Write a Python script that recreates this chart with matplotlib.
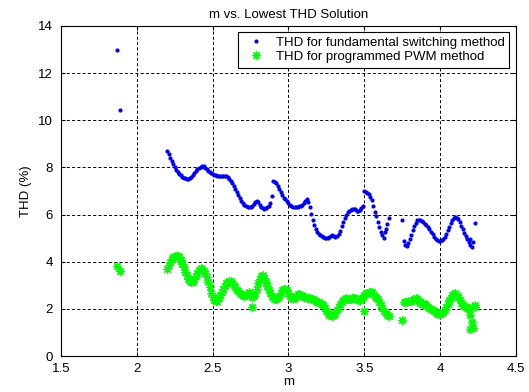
import numpy as np
import matplotlib
matplotlib.use('Agg')
import matplotlib.pyplot as plt

plt.rcParams['font.family'] = ['Liberation Sans', 'DejaVu Sans']
plt.rcParams['lines.scale_dashes'] = False

# shared m grid
m = [1.87, 1.89,
     2.20, 2.21, 2.22, 2.23, 2.24, 2.25, 2.26, 2.27, 2.28, 2.29,
     2.30, 2.31, 2.32, 2.33, 2.34, 2.35, 2.36, 2.37, 2.38, 2.39,
     2.40, 2.41, 2.42, 2.43, 2.44, 2.45, 2.46, 2.47, 2.48, 2.49,
     2.50, 2.51, 2.52, 2.53, 2.54, 2.55, 2.56, 2.57, 2.58, 2.59,
     2.60, 2.61, 2.62, 2.63, 2.64, 2.65, 2.66, 2.67, 2.68, 2.69,
     2.70, 2.71, 2.72, 2.73, 2.74, 2.75, 2.76, 2.77, 2.78, 2.79,
     2.80, 2.81, 2.82, 2.83, 2.84, 2.85, 2.86, 2.87, 2.88, 2.89,
     2.90, 2.91, 2.92, 2.93, 2.94, 2.95, 2.96, 2.97, 2.98, 2.99,
     3.00, 3.01, 3.02, 3.03, 3.04, 3.05, 3.06, 3.07, 3.08, 3.09,
     3.10, 3.11, 3.12, 3.13, 3.14, 3.15, 3.16, 3.17, 3.18, 3.19,
     3.20, 3.21, 3.22, 3.23, 3.24, 3.25, 3.26, 3.27, 3.28, 3.29,
     3.30, 3.31, 3.32, 3.33, 3.34, 3.35, 3.36, 3.37, 3.38, 3.39,
     3.40, 3.41, 3.42, 3.43, 3.44, 3.45, 3.46, 3.47, 3.48, 3.49,
     3.50, 3.51, 3.52, 3.53, 3.54, 3.55, 3.56, 3.57, 3.58, 3.59,
     3.60, 3.61, 3.62, 3.63, 3.64, 3.65, 3.66,
     3.75,
     3.76, 3.77, 3.78, 3.79, 3.80, 3.81, 3.82, 3.83, 3.84, 3.85,
     3.86, 3.87, 3.88, 3.89, 3.90, 3.91, 3.92, 3.93, 3.94, 3.95,
     3.96, 3.97, 3.98, 3.99, 4.00, 4.01, 4.02, 4.03, 4.04, 4.05,
     4.06, 4.07, 4.08, 4.09, 4.10, 4.11, 4.12, 4.13, 4.14, 4.15,
     4.16, 4.17, 4.18, 4.19, 4.20, 4.21, 4.22, 4.23]

thd_fund = [12.97, 10.45,
            8.70, 8.55, 8.42, 8.28, 8.14, 8.00, 7.88, 7.79, 7.72, 7.66,
            7.61, 7.57, 7.53, 7.51, 7.51, 7.55, 7.61, 7.69, 7.77, 7.85,
            7.92, 7.98, 8.03, 8.06, 8.04, 7.98, 7.92, 7.86, 7.81, 7.76,
            7.72, 7.68, 7.66, 7.65, 7.65, 7.65, 7.65, 7.65, 7.64, 7.62,
            7.58, 7.52, 7.44, 7.34, 7.22, 7.10, 6.97, 6.84, 6.71, 6.58,
            6.47, 6.39, 6.35, 6.33, 6.33, 6.34, 6.37, 6.43, 6.52, 6.58,
            6.52, 6.40, 6.31, 6.27, 6.25, 6.26, 6.30, 6.37, 6.48, 6.78,
            7.42, 7.40, 7.32, 7.22, 7.08, 6.94, 6.82, 6.72, 6.64, 6.56,
            6.48, 6.42, 6.37, 6.34, 6.32, 6.32, 6.33, 6.35, 6.38, 6.42,
            6.48, 6.56, 6.65, 6.52, 6.30, 6.02, 5.78, 5.56, 5.40, 5.28,
            5.19, 5.12, 5.07, 5.04, 5.02, 5.01, 5.01, 5.03, 5.08, 5.12,
            5.08, 5.06, 5.10, 5.19, 5.32, 5.50, 5.68, 5.86, 6.00, 6.10,
            6.16, 6.20, 6.23, 6.25, 6.24, 6.17, 6.13, 6.20, 6.28, 6.38,
            6.98, 6.96, 6.92, 6.86, 6.76, 6.60, 6.35, 6.12, 5.92, 5.70,
            5.48, 5.28, 5.12, 5.02, 5.40, 5.60, 5.85,
            5.77,
            4.88, 4.70, 4.66, 4.78, 4.95, 5.15, 5.35, 5.53, 5.66, 5.75,
            5.79, 5.78, 5.74, 5.68, 5.62, 5.55, 5.46, 5.37, 5.27, 5.16,
            5.06, 4.98, 4.93, 4.89, 4.88, 4.90, 4.96, 5.05, 5.18, 5.33,
            5.48, 5.63, 5.76, 5.85, 5.88, 5.87, 5.80, 5.68, 5.52, 5.37,
            5.22, 5.08, 4.96, 4.85, 4.72, 4.62, 4.85, 5.63]

thd_pwm = [3.80, 3.62,
           3.70, 3.85, 4.00, 4.12, 4.20, 4.25, 4.26, 4.24, 4.18, 4.06,
           3.92, 3.76, 3.58, 3.42, 3.28, 3.17, 3.13, 3.16, 3.26, 3.40,
           3.54, 3.66, 3.72, 3.71, 3.62, 3.52, 3.36, 3.15, 2.92, 2.68,
           2.50, 2.38, 2.32, 2.35, 2.45, 2.58, 2.72, 2.85, 2.97, 3.08,
           3.15, 3.18, 3.17, 3.10, 3.02, 2.92, 2.82, 2.74, 2.68, 2.62,
           2.58, 2.55, 2.58, 2.64, 2.70, 2.62, 2.50, 2.55, 2.66, 2.85,
           3.08, 3.28, 3.40, 3.42, 3.32, 3.14, 2.96, 2.80, 2.66, 2.55,
           2.48, 2.42, 2.40, 2.44, 2.55, 2.68, 2.78, 2.85, 2.86, 2.80,
           2.68, 2.55, 2.44, 2.40, 2.46, 2.55, 2.62, 2.65, 2.60, 2.55,
           2.52, 2.50, 2.48, 2.46, 2.44, 2.42, 2.40, 2.38, 2.35, 2.30,
           2.28, 2.26, 2.22, 2.18, 2.05, 1.92, 1.82, 1.76, 1.72, 1.70,
           1.75, 1.84, 1.95, 2.08, 2.20, 2.30, 2.38, 2.42, 2.44, 2.43,
           2.40, 2.42, 2.46, 2.48, 2.45, 2.40, 2.36, 2.38, 2.42, 2.50,
           2.58, 2.62, 2.66, 2.70, 2.72, 2.70, 2.62, 2.55, 2.48, 2.40,
           2.30, 2.18, 2.05, 1.92, 1.82, 1.74, 1.68,
           1.52,
           2.28, 2.30, 2.30, 2.32, 2.32, 2.35, 2.38, 2.42, 2.44, 2.40,
           2.32, 2.25, 2.22, 2.24, 2.22, 2.16, 2.10, 2.05, 2.00, 1.95,
           1.90, 1.85, 1.80, 1.78, 1.78, 1.82, 1.88, 1.96, 2.08, 2.22,
           2.36, 2.48, 2.58, 2.64, 2.66, 2.60, 2.50, 2.38, 2.26, 2.18,
           2.14, 2.10, 2.05, 1.98, 1.75, 1.45, 1.20, 2.18]

# a few extra solutions that sit off the main curves
m_fund_extra = [3.635, 4.20]
thd_fund_extra = [5.25, 4.95]
m_pwm_extra = [2.76, 3.50, 4.20, 4.21, 4.23]
thd_pwm_extra = [2.10, 1.90, 1.16, 2.10, 2.09]

xticks = [1.5, 2, 2.5, 3, 3.5, 4, 4.5]
xticklabels = ['1.5', '2', '2.5', '3', '3.5', '4', '4.5']
yticks = [0, 2, 4, 6, 8, 10, 12, 14]

fs = 9.5
fig = plt.figure(figsize=(5.29, 3.92), dpi=100)
ax = fig.add_axes([0.1153, 0.0918, 0.860, 0.842])

star = (8, 2, 0)
ax.plot(m, thd_fund, linestyle='none', marker='o', markersize=3.0,
        markeredgewidth=0, color=(0, 0, 1),
        label='THD for fundamental switching method')
ax.plot(m_fund_extra, thd_fund_extra, linestyle='none', marker='o',
        markersize=3.0, markeredgewidth=0, color=(0, 0, 1))
ax.plot(m, thd_pwm, linestyle='none', marker=star, markersize=6,
        markeredgewidth=0.9, color=(0, 1, 0),
        label='THD for programmed PWM method')
ax.plot(m_pwm_extra, thd_pwm_extra, linestyle='none', marker=star,
        markersize=6, markeredgewidth=0.9, color=(0, 1, 0))

ax.set_xlim(1.5, 4.5)
ax.set_ylim(0, 14)
ax.set_xticks(xticks)
ax.set_xticklabels(xticklabels)
ax.set_yticks(yticks)
ax.grid(True, color='black', linestyle=(0, (2.2, 1.6)), linewidth=0.7)
ax.tick_params(direction='in', length=3, top=True, right=True,
               labelsize=fs, colors='black')
ax.tick_params(axis='x', pad=5)
ax.tick_params(axis='y', pad=6)
for s in ax.spines.values():
    s.set_linewidth(0.8)

ax.set_xlabel('m', fontsize=fs, labelpad=1)
ax.set_ylabel('THD (%)', fontsize=fs, labelpad=4)
ax.set_title('m vs. Lowest THD Solution', fontsize=fs, pad=6)

leg = ax.legend(loc='upper right', bbox_to_anchor=(0.985, 0.982),
                borderaxespad=0, fontsize=fs, numpoints=1,
                handlelength=2.1, handletextpad=0.4, labelspacing=0.15,
                fancybox=False, framealpha=1, edgecolor='black',
                borderpad=0.35)
leg.get_frame().set_linewidth(0.8)

fig.savefig('out.png', dpi=100)
